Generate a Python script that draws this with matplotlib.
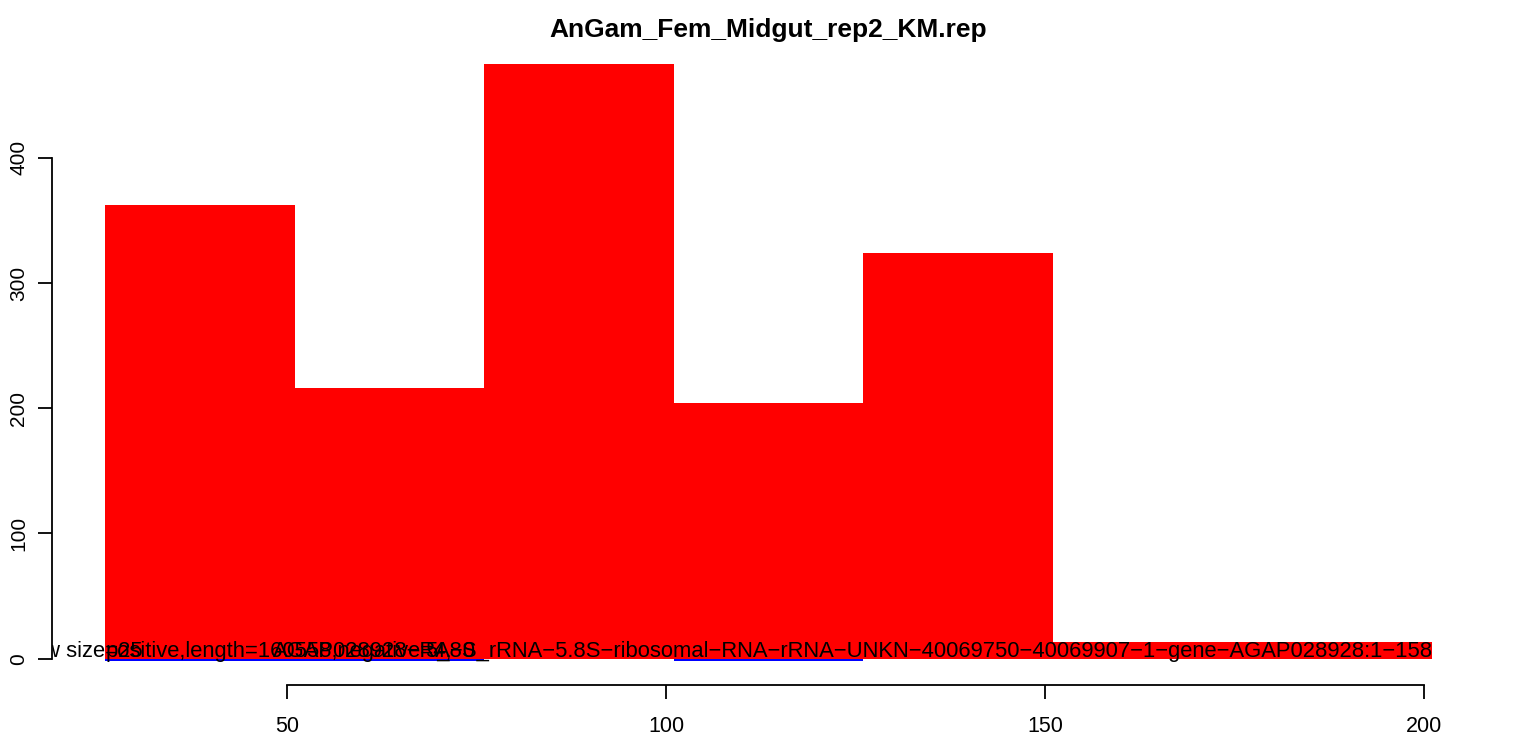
import matplotlib
matplotlib.use("Agg")
import matplotlib.pyplot as plt
import numpy as np

plt.rcParams['font.family'] = ['Liberation Sans', 'DejaVu Sans']

title = "AnGam_Fem_Midgut_rep2_KM.rep"
bin_left = [26, 51, 76, 101, 126, 151]
bin_width = [25, 25, 25, 25, 25, 50]
pos_counts = [362, 216, 475, 204, 324, 13]
neg_left = [26, 51, 101]
neg_width = [25, 25, 25]
neg_counts = [-1.5, -1.5, -1.5]
x_ticks = [50, 100, 150, 200]
y_ticks = [0, 100, 200, 300, 400]
label_window = "window size=25"
label_stats = "positive,length=160558,negative=4,"
label_gene_a = "AGAP028928\u2212RA\u22120"
label_gene_b = "5_8S_rRNA\u22125.8S\u2212ribosomal\u2212RNA\u2212rRNA\u2212UNKN\u221240069750\u221240069907\u22121\u2212gene\u2212AGAP028928:1\u2212158"

W, H = 1533, 736
fig = plt.figure(figsize=(W/100, H/100), dpi=100)
L, R, B, T = 52, 1485, 685, 40
ax = fig.add_axes([L/W, 1-B/H, (R-L)/W, (B-T)/H])
ax.set_xlim(19, 208)
ax.set_ylim(-21, 494)

ax.bar(bin_left, pos_counts, width=bin_width, align='edge', color='#FF0000', linewidth=0)
ax.bar(neg_left, neg_counts, width=neg_width, align='edge', color='#0000FF', linewidth=0)

fs_txt = 15.8
ax.text(31, 6, label_window, ha='right', va='center', fontsize=fs_txt, color='black', clip_on=True)
ax.text(26, 6, label_stats, ha='left', va='center', fontsize=fs_txt, color='black', clip_on=True)
ax.text(48.2, 6, label_gene_a, ha='left', va='center', fontsize=fs_txt, color='black', clip_on=True)
ax.text(201, 6, label_gene_b, ha='right', va='center', fontsize=fs_txt, color='black', clip_on=True)

for s in ['top', 'right']:
    ax.spines[s].set_visible(False)
ax.spines['bottom'].set_bounds(50, 200)
ax.spines['left'].set_bounds(0, 400)
ax.spines['bottom'].set_linewidth(1.3)
ax.spines['left'].set_linewidth(1.3)
ax.set_xticks(x_ticks)
ax.set_xticklabels([str(v) for v in x_ticks], fontsize=15.5)
ax.set_yticks(y_ticks)
ax.set_yticklabels([str(v) for v in y_ticks], fontsize=15, rotation=90, va='center')
ax.tick_params(axis='both', direction='out', length=10, width=1.3)
ax.tick_params(axis='x', pad=12)
ax.tick_params(axis='y', pad=7)

fig.text((L+R)/2/W, 1-30/H, title, ha='center', va='center', fontsize=19, fontweight='bold')

fig.savefig("out.png", dpi=100)
